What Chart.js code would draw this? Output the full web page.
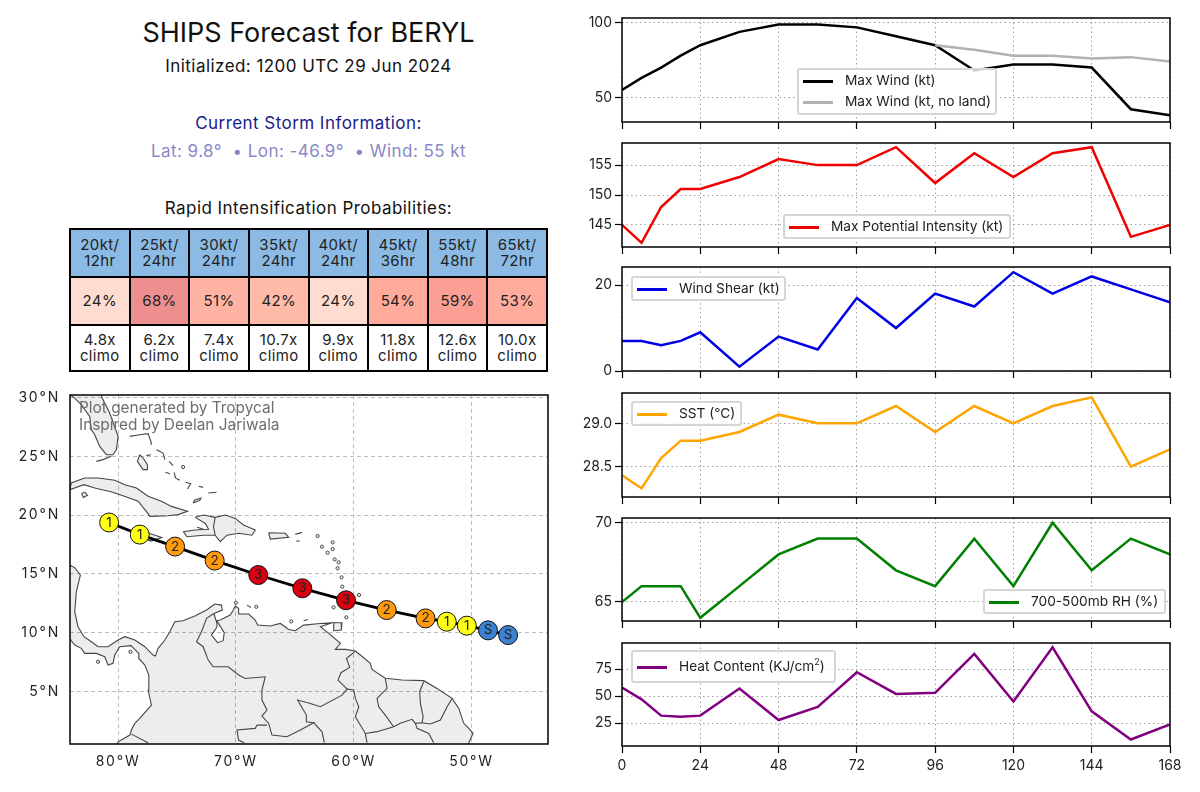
<!DOCTYPE html>
<html>
<head>
<meta charset="utf-8">
<title>SHIPS Forecast for BERYL</title>
<script src="https://cdn.jsdelivr.net/npm/chart.js@4/dist/chart.umd.min.js"></script>
<style>
    html, body { margin: 0; padding: 0; background: #fff; }
    body { width: 1200px; height: 792px; position: relative; overflow: hidden; font-family: Inter, sans-serif; color: #111; }
    canvas { position: absolute; }
    .txt { position: absolute; left: 70px; width: 477px; text-align: center; white-space: nowrap; font-size: 17px; letter-spacing: 0.45px; line-height: 20px; }
    #probs { position: absolute; left: 69px; top: 228px; width: 479px; height: 144px; border-collapse: collapse; table-layout: fixed; z-index: 2; }
    #probs td { border: 2px solid #000; padding: 0; text-align: center; font-size: 15px; letter-spacing: 0.35px; line-height: 16.5px; color: #222; }
    .credit { position: absolute; left: 79px; top: 400px; font-size: 15.4px; line-height: 16.5px; color: #6e6e6e; z-index: 3; white-space: nowrap; }
    .legend { position: absolute; box-sizing: border-box; background: rgba(255,255,255,0.8); border: 2px solid #d6d6d6; border-radius: 3px; font-size: 13.7px; color: #222; z-index: 3; padding-left: 4px; white-space: nowrap; }
    .legend div { height: 21px; line-height: 21px; }
    .legend i { display: inline-block; width: 30px; height: 3px; margin-right: 12px; vertical-align: middle; }
    .legend sup { font-size: 9px; line-height: 0; }
</style>
</head>
<body>
<div class="txt" style="top:17px;font-size:27px;line-height:32px;letter-spacing:0">SHIPS Forecast for BERYL</div>
<div class="txt" style="top:56px">Initialized: 1200 UTC 29 Jun 2024</div>
<div class="txt" style="top:112.5px;color:#1a1a8c">Current Storm Information:</div>
<div class="txt" style="top:140.5px;color:#8888c8">Lat: 9.8°&nbsp; • Lon: -46.9°&nbsp; • Wind: 55 kt</div>
<div class="txt" style="top:197.5px">Rapid Intensification Probabilities:</div>
<table id="probs"></table>
<div class="credit">Plot generated by Tropycal<br>Inspired by Deelan Jariwala</div>
<canvas id="mapa" width="560" height="400" style="left:0;top:385px"></canvas>

<script>
// --- Tabela de probabilidades ---
const riLabels = ['20kt/<br>12hr', '25kt/<br>24hr', '30kt/<br>24hr', '35kt/<br>24hr', '40kt/<br>24hr', '45kt/<br>36hr', '55kt/<br>48hr', '65kt/<br>72hr']
const riProbs = [24, 68, 51, 42, 24, 54, 59, 53]
const riClimo = ['4.8x', '6.2x', '7.4x', '10.7x', '9.9x', '11.8x', '12.6x', '10.0x']
const riColors = ['#fedccf', '#ee8f8f', '#ffb3a3', '#ffbaa8', '#fedccf', '#ffaa9b', '#fb9e93', '#ffac9d']

// --- Series SHIPS ---
const hours = [0, 6, 12, 18, 24, 36, 48, 60, 72, 84, 96, 108, 120, 132, 144, 156, 168]
const maxWind = [55, 63, 70, 78, 85, 94, 99, 99, 97, 91, 85, 68, 72, 72, 70, 42, 38]
const noLandHours = [96, 108, 120, 132, 144, 156, 168]
const maxWindNoLand = [85, 82, 78, 78, 76, 77, 74]
const potential = [145, 142, 148, 151, 151, 153, 156, 155, 155, 158, 152, 157, 153, 157, 158, 143, 145]
const shear = [7, 7, 6, 7, 9, 1, 8, 5, 17, 10, 18, 15, 23, 18, 22, 19, 16]
const sst = [28.4, 28.25, 28.6, 28.8, 28.8, 28.9, 29.1, 29.0, 29.0, 29.2, 28.9, 29.2, 29.0, 29.2, 29.3, 28.5, 28.7]
const rh = [65, 66, 66, 66, 64, 66, 68, 69, 69, 67, 66, 69, 66, 70, 67, 69, 68]
const heat = [58, 47, 32, 31, 32, 57, 28, 40, 72, 52, 53, 89, 45, 95, 36, 10, 24]
const hourTicks = [0, 24, 48, 72, 96, 120, 144, 168]

// --- Trajetoria ---
const trackLon = [-46.9, -48.6, -50.4, -52.1, -53.9, -57.2, -60.65, -64.36, -68.1, -71.8, -75.16, -78.16, -80.76]
const trackLat = [9.8, 10.2, 10.6, 10.94, 11.22, 11.93, 12.76, 13.78, 14.91, 16.14, 17.33, 18.35, 19.38]
const trackCat = ['S', 'S', '1', '1', '2', '2', '3', '3', '3', '2', '2', '1', '1']
const catColors = { S: '#3b83d1', 1: '#ffff14', 2: '#ff9a0e', 3: '#d9000f' }
const lonTicks = [-80, -70, -60, -50]
const latTicks = [5, 10, 15, 20, 25, 30]

// --- Contornos de terra [lon, lat] ---
const mainland = [[-84.6, 15.9], [-84.16, 15.77], [-83.68, 15.54], [-83.2, 14.91], [-83.54, 13.49], [-83.68, 11.79], [-83.4, 10.51], [-82.89, 9.66], [-82.27, 9.23], [-81.7, 8.81], [-80.85, 8.81], [-80, 9.38], [-79.43, 9.66], [-78.58, 9.38], [-77.73, 8.81], [-77.03, 8.1], [-76.83, 8.01], [-76.6, 8.67], [-76.03, 9.38], [-75.61, 10.08], [-75.18, 10.93], [-74.48, 11.02], [-73.49, 11.42], [-72.49, 11.93], [-71.79, 12.44], [-71.22, 12.35], [-71.16, 11.93], [-71.87, 11.64], [-71.7, 11.08], [-71.64, 10.93], [-71.59, 10.51], [-72.07, 9.8], [-71.56, 9.15], [-71.08, 9.32], [-70.99, 10], [-71.55, 10.9], [-71.6, 11.05], [-71.33, 11.08], [-70.48, 11.5], [-70.25, 11.87], [-70.06, 12.27], [-69.77, 12.07], [-69.77, 11.59], [-68.92, 11.59], [-68.36, 11.08], [-68.16, 10.65], [-67.08, 10.57], [-66.23, 10.79], [-65.52, 10.28], [-64.96, 10.17], [-64.25, 10.65], [-62.83, 10.79], [-61.84, 10.85], [-62.83, 10.51], [-62.12, 9.94], [-61.13, 9.09], [-61.56, 8.58], [-60.71, 8.58], [-59.86, 8.44], [-59.44, 8.1], [-58.59, 7.39], [-58.45, 6.88], [-57.32, 6.12], [-55.9, 5.97], [-54.06, 5.92], [-52.93, 5.26], [-51.65, 4.41], [-51.08, 3.56], [-50.66, 2.29], [-50.23, 1.86], [-49.87, 1.43], [-50.23, 0.64], [-50.3, 0.3], [-80.1, 0.3], [-80, 0.72], [-79, 1.29], [-78.87, 1.72], [-78.58, 2.28], [-78.16, 2.71], [-77.17, 3.84], [-77.45, 5.12], [-77.39, 6.4], [-77.73, 7.25], [-78.24, 7.81], [-78.24, 8.24], [-78.9, 8.9], [-79.86, 8.81], [-80.28, 8.1], [-80.43, 7.39], [-80.85, 7.25], [-81.13, 7.96], [-81.84, 8.24], [-82.83, 8.24], [-83.12, 8.67], [-83.68, 8.95], [-84.02, 9.38], [-84.6, 9.8]]
const florida = [[-81.42, 30.12], [-80.71, 28.7], [-80, 26.71], [-80.14, 25.58], [-80.43, 25.15], [-80.99, 25.15], [-81.56, 25.86], [-81.98, 26.85], [-82.27, 27.28], [-82.41, 28.41], [-83.12, 29.41], [-83.68, 29.97], [-84.1, 30.26], [-84.6, 30.2], [-84.6, 30.6], [-81.3, 30.6]]
const cuba = [[-84.11, 22.17], [-83.97, 22.74], [-82.83, 23.17], [-81.7, 23.17], [-80.28, 22.97], [-79.43, 22.6], [-78.44, 22.31], [-77.45, 21.61], [-76.32, 21.18], [-75.47, 20.75], [-74.11, 20.33], [-74.9, 20.05], [-75.75, 19.96], [-77.3, 19.9], [-77.5, 20.2], [-78.3, 21.2], [-79.4, 21.6], [-80.6, 22], [-81.9, 22.3], [-82.9, 22.6]]
const isleOfYouth = [[-83.1, 21.85], [-82.8, 21.95], [-82.6, 21.7], [-82.95, 21.5]]
const hispaniola = [[-73.46, 19.82], [-72.75, 20.02], [-71.76, 19.82], [-70.9, 20.02], [-70.06, 19.73], [-69.35, 19.17], [-68.36, 18.74], [-68.64, 18.3], [-69.77, 18.46], [-70.76, 18.3], [-71.33, 17.75], [-71.76, 18.3], [-72.75, 18.3], [-74.16, 18.17], [-74.45, 18.6], [-73.46, 18.74], [-72.32, 18.8], [-72.6, 19.3], [-73.3, 19.73]]
const puertoRico = [[-67.22, 18.51], [-65.81, 18.46], [-65.52, 18.12], [-67.08, 17.97]]
const jamaica = [[-78.3, 18.4], [-77.5, 18.5], [-76.3, 18.1], [-77.2, 17.8], [-78.2, 18.2]]
const andros = [[-78.16, 25.15], [-78.36, 24.58], [-77.88, 23.88], [-77.51, 23.88], [-77.51, 24.3], [-77.88, 24.87]]
const inagua = [[-73.63, 21.04], [-73.06, 21.27], [-72.97, 21.46], [-73.5, 21.3]]
const trinidad = [[-61.7, 10.85], [-61, 10.85], [-61.05, 10.23], [-61.7, 10.17]]
const landShapes = [mainland, florida, cuba, isleOfYouth, hispaniola, puertoRico, jamaica, andros, inagua, trinidad]

// ilhas finas e fronteiras
const thinLines = [
    [[-81.84, 24.58], [-81.28, 24.73], [-80.57, 25.01]],
    [[-79.01, 26.71], [-78.16, 26.85], [-77.45, 26.94], [-77.17, 26.14], [-77.22, 26]],
    [[-77.59, 25.07], [-77.22, 25.15]],
    [[-76.74, 25.58], [-76.18, 25.29], [-76.03, 24.73]],
    [[-75.67, 24.58], [-75.33, 24.22]],
    [[-75.98, 23.65], [-75.61, 23.53]],
    [[-75.24, 23.65], [-75.13, 23.17], [-74.76, 22.97]],
    [[-74.28, 22.8], [-73.83, 22.68], [-74.11, 22.23]],
    [[-73.15, 22.46], [-72.78, 22.37]],
    [[-72.35, 21.89], [-71.64, 21.95]],
    [[-73.3, 18.97], [-72.75, 18.8]],
    [[-71.76, 19.82], [-71.9, 19.02], [-71.76, 18.3]],
    [[-64.96, 18.37], [-64.39, 18.54]],
    [[-64.87, 17.8], [-64.59, 17.8]],
    [[-69.06, 12.35], [-68.72, 12.15]],
    [[-64.25, 11.02], [-63.9, 11.13]],
    [[-71.87, 11.64], [-72.49, 11.22], [-72.92, 10.08], [-73.34, 9.23], [-72.78, 8.81], [-72.35, 7.67], [-71.93, 7.1], [-70.65, 7.1], [-69.77, 6.4], [-69.21, 6.11], [-67.51, 6.25], [-67.79, 5.12], [-67.79, 4.27], [-67.36, 3.42], [-67.79, 2.91], [-67.22, 2.28], [-66.94, 1.29], [-65.67, 1.15], [-64.53, 1.72], [-63.4, 2.34], [-64.02, 2.42], [-64.02, 2.99], [-64.76, 4.27], [-63.68, 3.98], [-62.83, 3.7], [-60.99, 4.69], [-60.56, 5.2], [-61.33, 5.97], [-61.08, 6.6], [-60.34, 7.05], [-60.62, 7.81], [-59.86, 8.44]],
    [[-69.29, 0.64], [-69.77, 0.86], [-69.91, 1.72], [-68.36, 1.86], [-68.2, 2.14], [-67.36, 2.14]],
    [[-63.4, 2.34], [-62.69, 1.57], [-62.49, 0.64]],
    [[-60.56, 5.2], [-60, 5.12], [-59.86, 4.41], [-59.57, 3.7], [-59.86, 2.85], [-59.01, 1.43], [-58.02, 1.58], [-56.61, 2], [-56.04, 2.29], [-55.05, 2.63], [-54.77, 2.29], [-54.2, 2.34], [-53.49, 2.23], [-52.64, 2.57], [-52.07, 3.7], [-51.65, 4.41]],
    [[-57.32, 6.12], [-57.17, 5.26], [-58.02, 4.41], [-57.88, 3.7], [-57.32, 2.99], [-56.61, 2]],
    [[-54.06, 5.83], [-54.4, 4.98], [-54.34, 3.99], [-54.11, 2.85], [-54.2, 2.34]],
    [[-54.77, 2.29], [-54.62, 1.86], [-53.63, 1.43], [-53.21, 0.64]],
    [[-59.02, 1.43], [-58.87, 0.64]],
    [[-78.87, 1.37], [-77.45, 0.64]]
]
const islandLon = [-63.07, -62.7, -61.79, -61.79, -62.22, -61.62, -61.28, -61.37, -61.03, -60.97, -59.55, -61.71, -60.63, -70, -68.27, -65.3, -74.48, -81.7, -78.95]
const islandLat = [18.23, 17.32, 17.69, 17.12, 16.81, 16.24, 15.99, 15.48, 14.71, 13.92, 13.21, 12.16, 11.31, 12.55, 12.21, 10.96, 24.1, 7.53, 8.38]

const LAND_EDGE = '#454545'
const tickFont = { family: 'Inter, sans-serif', size: 14 }

// Tira o espaco extra que o Chart.js reserva para os rotulos das pontas
const fixSize = (s, w, h) => {
    if (w) s.width = w
    if (h) s.height = h
    s.paddingTop = s.paddingBottom = s.paddingLeft = s.paddingRight = 0
}

// --- Monta a tabela ---
const tabela = document.getElementById('probs')
tabela.innerHTML = `
    <tr style="height:48px">${riLabels.map(l => `<td style="background:#8bbbe4">${l}</td>`).join('')}</tr>
    <tr style="height:48px">${riProbs.map((p, i) => `<td style="background:${riColors[i]}">${p}%</td>`).join('')}</tr>
    <tr style="height:46px">${riClimo.map(c => `<td>${c}<br>climo</td>`).join('')}</tr>
`

// Moldura completa em volta da area do grafico
const framePlugin = {
    id: 'frame',
    afterDraw(chart) {
        const { ctx, chartArea: a } = chart
        ctx.save()
        ctx.strokeStyle = '#000'
        ctx.lineWidth = 1.5
        ctx.strokeRect(a.left, a.top, a.right - a.left, a.bottom - a.top)
        ctx.restore()
    }
}

// Numero / letra dentro de cada marcador
const stormLabels = {
    id: 'stormLabels',
    beforeDraw(chart) {
        chart.ctx.letterSpacing = '1.8px'
    },
    afterDatasetsDraw(chart) {
        const { ctx } = chart
        const pts = chart.getDatasetMeta(0).data
        ctx.save()
        ctx.letterSpacing = '0px'
        ctx.font = '13.5px Inter, sans-serif'
        ctx.textAlign = 'center'
        ctx.textBaseline = 'middle'
        ctx.fillStyle = '#222'
        pts.forEach((p, i) => ctx.fillText(trackCat[i], p.x, p.y))
        ctx.restore()
    }
}

// --- Mapa ---
const toXY = list => list.map(([x, y]) => ({ x, y }))
const mapDatasets = [{
    data: trackLon.map((x, i) => ({ x, y: trackLat[i] })),
    showLine: true,
    borderColor: '#000',
    borderWidth: 2.8,
    pointRadius: 9.5,
    pointBorderColor: '#111',
    pointBorderWidth: 1,
    pointBackgroundColor: trackCat.map(c => catColors[c])
}, {
    data: islandLon.map((x, i) => ({ x, y: islandLat[i] })),
    pointRadius: 1.6,
    pointBackgroundColor: '#eee',
    pointBorderColor: LAND_EDGE,
    pointBorderWidth: 1
}]
thinLines.forEach(l => mapDatasets.push({ data: toXY(l), showLine: true, borderColor: LAND_EDGE, borderWidth: 1.1, pointRadius: 0 }))
landShapes.forEach(s => mapDatasets.push({
    data: toXY(s.concat([s[0]])),
    showLine: true,
    fill: 'shape',
    backgroundColor: 'rgba(0,0,0,0.07)',
    borderColor: LAND_EDGE,
    borderWidth: 1.1,
    pointRadius: 0
}))

new Chart(document.getElementById('mapa'), {
    type: 'scatter',
    data: { datasets: mapDatasets },
    plugins: [framePlugin, stormLabels],
    options: {
        responsive: false,
        animation: false,
        layout: { autoPadding: false, padding: { top: 10, right: 12, left: 0, bottom: 0 } },
        plugins: { legend: { display: false }, tooltip: { enabled: false } },
        scales: {
            x: {
                type: 'linear', min: -84.08, max: -43.51,
                afterFit: s => fixSize(s, 0, 41),
                afterBuildTicks: s => { s.ticks = lonTicks.map(value => ({ value })) },
                border: { display: false, dash: [4, 3] },
                grid: { color: '#bdbdbd', lineWidth: 1, drawTicks: false },
                ticks: { font: tickFont, color: '#222', padding: 9, maxRotation: 0, autoSkip: false, callback: v => `${-v}°W` }
            },
            y: {
                type: 'linear', min: 0.53, max: 30.23,
                afterFit: s => fixSize(s, 70, 0),
                afterBuildTicks: s => { s.ticks = latTicks.map(value => ({ value })) },
                border: { display: false, dash: [4, 3] },
                grid: { color: '#bdbdbd', lineWidth: 1, drawTicks: false },
                ticks: { font: tickFont, color: '#222', padding: 10, autoSkip: false, callback: v => `${v}°N` }
            }
        }
    }
})

// --- Paineis da direita ---
const panels = [
    { top: 18, height: 104, min: 33.4, max: 103.3, ticks: [50, 100], lines: [{ xs: noLandHours, ys: maxWindNoLand, color: '#b2b2b2' }, { xs: hours, ys: maxWind, color: '#000' }],
      legend: [['#000', 'Max Wind (kt)'], ['#b2b2b2', 'Max Wind (kt, no land)']], box: [797, 68, 200, 47, 0] },
    { top: 143, height: 104, min: 141.3, max: 158.7, ticks: [145, 150, 155], lines: [{ xs: hours, ys: potential, color: '#f00000' }],
      legend: [['#f00000', 'Max Potential Intensity (kt)']], box: [783, 214, 228, 25, 0] },
    { top: 267, height: 104, min: 0, max: 24.2, ticks: [0, 20], lines: [{ xs: hours, ys: shear, color: '#0000e6' }],
      legend: [['#0000e6', 'Wind Shear (kt)']], box: [631, 276, 155, 25, 0] },
    { top: 393, height: 104, min: 28.15, max: 29.35, ticks: [28.5, 29], lines: [{ xs: hours, ys: sst, color: '#ffa500' }],
      legend: [['#ffa500', 'SST (°C)']], box: [631, 401, 111, 25, 0] },
    { top: 518, height: 103, min: 63.8, max: 70.3, ticks: [65, 70], lines: [{ xs: hours, ys: rh, color: '#008000' }],
      legend: [['#008000', '700-500mb RH (%)']], box: [983, 589, 183, 25, 0] },
    { top: 643, height: 103, min: 4, max: 99, ticks: [25, 50, 75], lines: [{ xs: hours, ys: heat, color: '#800080' }],
      legend: [['#800080', 'Heat Content (KJ/cm<sup>2</sup>)']], box: [631, 650, 205, 33, 4] }
]

panels.forEach((p, idx) => {
    const last = idx === panels.length - 1
    const xHeight = last ? 40 : 8
    const canvas = document.createElement('canvas')
    canvas.width = 620
    canvas.height = 8 + p.height + xHeight
    canvas.style.left = '580px'
    canvas.style.top = `${p.top - 8}px`
    document.body.appendChild(canvas)

    new Chart(canvas, {
        type: 'scatter',
        data: {
            datasets: p.lines.map(l => ({
                data: l.xs.map((x, i) => ({ x, y: l.ys[i] })),
                showLine: true,
                borderColor: l.color,
                borderWidth: 2.5,
                pointRadius: 0
            }))
        },
        plugins: [framePlugin],
        options: {
            responsive: false,
            animation: false,
            layout: { autoPadding: false, padding: { top: 8, right: 30, left: 0, bottom: 0 } },
            plugins: { legend: { display: false }, tooltip: { enabled: false } },
            scales: {
                x: {
                    type: 'linear', min: 0, max: 168,
                    afterFit: s => fixSize(s, 0, xHeight),
                    afterBuildTicks: s => { s.ticks = hourTicks.map(value => ({ value })) },
                    border: { display: false, dash: [1.5, 3] },
                    grid: { color: '#a0a0a0', tickColor: '#000', tickLength: 7, tickWidth: 1.2, tickBorderDash: [] },
                    ticks: { display: last, font: tickFont, color: '#222', padding: 4, autoSkip: false, maxRotation: 0 }
                },
                y: {
                    type: 'linear', min: p.min, max: p.max,
                    afterFit: s => fixSize(s, 42, 0),
                    afterBuildTicks: s => { s.ticks = p.ticks.map(value => ({ value })) },
                    border: { display: false, dash: [1.5, 3] },
                    grid: { color: '#a0a0a0', tickColor: '#000', tickLength: 7, tickWidth: 1.2, tickBorderDash: [] },
                    ticks: { font: tickFont, color: '#222', padding: 3, autoSkip: false, callback: v => p.ticks[0] === 28.5 ? v.toFixed(1) : v }
                }
            }
        }
    })

    // Legenda dentro do painel
    const leg = document.createElement('div')
    leg.className = 'legend'
    leg.style.cssText = `left:${p.box[0]}px;top:${p.box[1]}px;width:${p.box[2]}px;height:${p.box[3]}px;padding-top:${p.box[4]}px`
    leg.innerHTML = p.legend.map(([c, t]) => `<div><i style="background:${c}"></i>${t}</div>`).join('')
    document.body.appendChild(leg)
})
</script>
</body>
</html>
